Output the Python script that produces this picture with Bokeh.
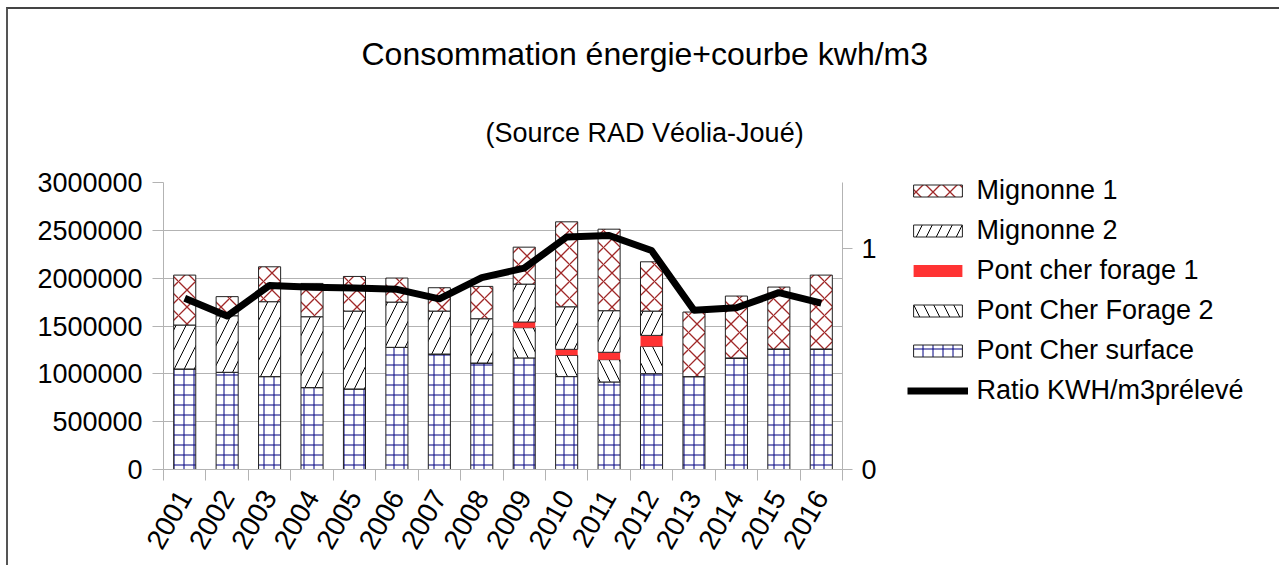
from bokeh.plotting import figure
from bokeh.models import (ColumnDataSource, Range1d, LinearAxis, FixedTicker, Legend,
                          LegendItem, Title, BasicTickFormatter)
from bokeh.embed import file_html
from bokeh.resources import INLINE

years = ["2001", "2002", "2003", "2004", "2005", "2006", "2007", "2008",
         "2009", "2010", "2011", "2012", "2013", "2014", "2015", "2016"]
pont_cher_surface = [1051000, 1016000, 971000, 856000, 842000, 1277000, 1207000, 1113000,
                     1166000, 971000, 915000, 1002000, 971000, 1166000, 1260000, 1260000]
pont_cher_forage2 = [0, 0, 0, 0, 0, 0, 0, 0, 316000, 222000, 233000, 285000, 0, 0, 0, 0]
pont_cher_forage1 = [0, 0, 0, 0, 0, 0, 0, 0, 59000, 63000, 77000, 115000, 0, 0, 0, 0]
mignonne2 = [459000, 591000, 783000, 741000, 814000, 473000, 449000, 463000,
             397000, 445000, 435000, 254000, 0, 0, 0, 0]
mignonne1 = [522000, 200000, 365000, 348000, 362000, 251000, 244000, 338000,
             386000, 888000, 852000, 515000, 675000, 647000, 647000, 772000]
ratio = [0.776, 0.695, 0.834, 0.826, 0.822, 0.816, 0.773, 0.869,
         0.912, 1.053, 1.060, 0.992, 0.721, 0.733, 0.801, 0.754]
left_ticks = [0, 500000, 1000000, 1500000, 2000000, 2500000, 3000000]
right_ticks = [0, 1]

xpos = list(range(1, len(years) + 1))
src = ColumnDataSource(dict(x=xpos, surface=pont_cher_surface, f2=pont_cher_forage2,
                            f1=pont_cher_forage1, m2=mignonne2, m1=mignonne1, ratio=ratio))

FONT = "Liberation Sans"
GRAY = "#b3b3b3"

p = figure(frame_width=679, frame_height=287, output_backend="svg", toolbar_location=None,
           x_range=Range1d(0.5, len(years) + 0.5), y_range=Range1d(0, 3000000),
           min_border_left=155, min_border_right=436, min_border_top=173, min_border_bottom=96,
           outline_line_color=None, background_fill_color="white", border_fill_color="white")
p.styles = {"border-top": "2px solid #444", "border-left": "2px solid #555",
            "margin-top": "7px", "margin-left": "6px"}
p.extra_y_ranges = {"ratio": Range1d(0, 1.3)}

stack_names = ["surface", "f2", "f1", "m2", "m1"]
patterns = ["cross", "left_diagonal_line", " ", "right_diagonal_line", "diagonal_cross"]
hcolors = ["#000080", "black", "black", "black", "#a02828"]
fills = ["white", "white", "#ff3333", "white", "white"]
scales = [10, 20, 10, 20, 17]
weights = [1, 1, 1, 1, 1.3]
lines = ["#222222", "#222222", None, "#222222", "#222222"]
renderers = p.vbar_stack(stack_names, x="x", width=0.52, source=src,
                         fill_color=fills, hatch_pattern=patterns, hatch_color=hcolors,
                         hatch_scale=scales, hatch_weight=weights, line_color=lines, line_width=1)

line_r = p.line("x", "ratio", source=src, y_range_name="ratio", line_color="black",
                line_width=7, line_join="round")

# axes
p.xaxis.ticker = FixedTicker(ticks=xpos, minor_ticks=[i + 0.5 for i in range(0, len(years) + 1)])
p.xaxis.major_label_overrides = {i + 1: y for i, y in enumerate(years)}
p.xaxis.major_tick_out = 0
p.xaxis.major_tick_in = 0
p.xaxis.minor_tick_out = 11
p.xaxis.minor_tick_in = 0
p.xaxis.minor_tick_line_color = GRAY
p.xaxis.axis_line_color = GRAY
p.xaxis.major_label_orientation = 1.05
p.xaxis.major_label_standoff = 12
p.xaxis.major_label_text_font = FONT
p.xaxis.major_label_text_font_size = "28px"
p.xaxis.major_label_text_color = "black"

p.yaxis.ticker = FixedTicker(ticks=left_ticks)
p.yaxis.formatter = BasicTickFormatter(use_scientific=False)
p.yaxis.major_tick_out = 11
p.yaxis.major_tick_in = 0
p.yaxis.minor_tick_line_color = None
p.yaxis.major_tick_line_color = GRAY
p.yaxis.axis_line_color = GRAY
p.yaxis.major_label_standoff = 10
p.yaxis.major_label_text_font = FONT
p.yaxis.major_label_text_font_size = "27px"
p.yaxis.major_label_text_color = "black"

ax2 = LinearAxis(y_range_name="ratio", ticker=FixedTicker(ticks=right_ticks),
                 major_tick_out=10, major_tick_in=0, minor_tick_line_color=None,
                 major_tick_line_color=GRAY, axis_line_color=GRAY, major_label_standoff=9,
                 major_label_text_font=FONT, major_label_text_font_size="27px",
                 major_label_text_color="black")
p.add_layout(ax2, "right")

p.xgrid.grid_line_color = None
p.ygrid.grid_line_color = GRAY
p.ygrid.grid_line_width = 1

# legend
labels = ["Pont Cher surface", "Pont Cher Forage 2", "Pont cher forage 1", "Mignonne 2", "Mignonne 1"]
items = [LegendItem(label=labels[i], renderers=[renderers[i]]) for i in range(4, -1, -1)]
items.append(LegendItem(label="Ratio KWH/m3prélevé", renderers=[line_r]))
legend = Legend(items=items, location=(-192, 63), glyph_width=61, glyph_height=15,
                label_text_font=FONT, label_text_font_size="27px", label_height=26,
                label_text_color="black",
                spacing=9, label_standoff=8, margin=0, padding=0,
                border_line_color=None, background_fill_alpha=0)
p.add_layout(legend, "right")

# titles
sub = Title(text="(Source RAD Véolia-Joué)", align="left", offset=322,
            text_font=FONT, text_font_size="27px", text_font_style="normal",
            text_color="black", standoff=69)
main = Title(text="Consommation énergie+courbe kwh/m3", align="left", offset=198,
             text_font=FONT, text_font_size="32px", text_font_style="normal",
             text_color="black", standoff=19)
p.add_layout(sub, "above")
p.add_layout(main, "above")

open("out.html", "w").write(file_html(p, INLINE))
